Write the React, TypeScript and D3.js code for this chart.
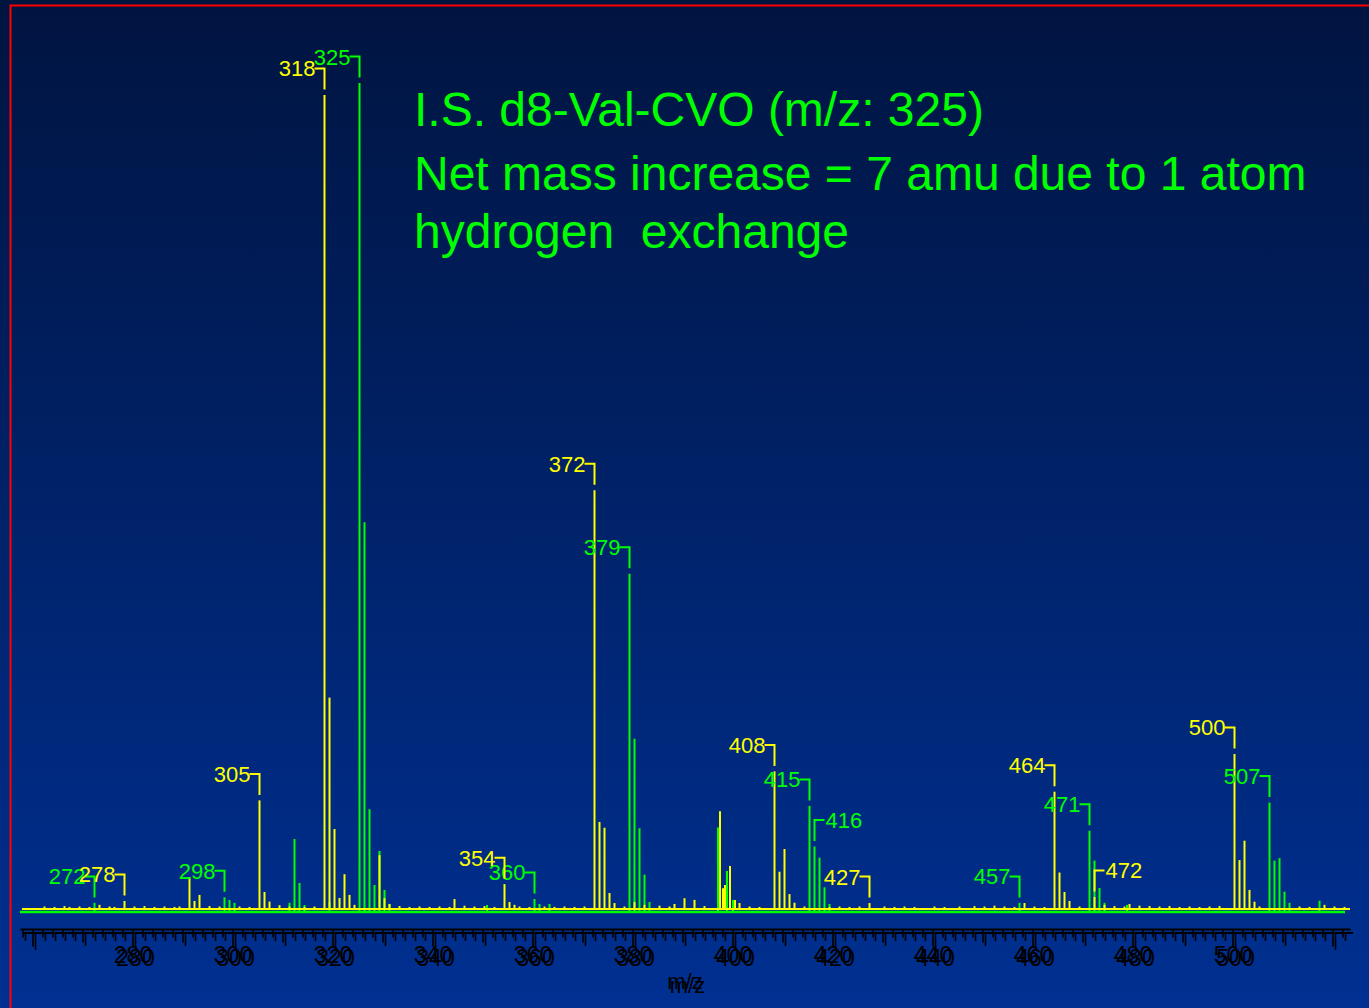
import React from 'react';
import * as d3 from 'd3';

// ---------------- data ----------------
// [m/z, relative abundance %]
const yellowPeaks: [number, number][] = [
  [273, 0.5], [278, 0.97], [291, 3.86], [292, 0.97], [293, 1.7], [305, 13.1], [306, 2.05], [307, 0.9],
  [318, 98.2], [319, 25.5], [320, 9.65], [321, 1.33], [322, 4.2], [323, 1.7], [324, 0.5], [329, 6.5],
  [330, 1.3], [331, 0.6], [344, 1.2], [354, 3.0], [355, 0.85], [356, 0.5], [372, 50.5], [373, 10.5],
  [374, 9.8], [375, 1.93], [376, 0.72], [380, 0.85], [382, 0.5], [388, 0.6], [390, 1.3], [392, 1.1],
  [397.1, 11.8], [397.7, 2.5], [398.1, 2.9], [399.1, 5.2], [400.1, 1.1], [401, 0.72], [408, 16.6],
  [409, 4.5], [410, 7.24], [411, 1.8], [412, 0.76], [427, 0.72], [458, 0.72], [464, 14.15], [465, 4.4],
  [466, 2.05], [467, 0.97], [472, 1.45], [474, 0.5], [479, 0.6], [500, 18.7], [501, 5.9], [502, 8.24],
  [503, 2.3], [504, 0.88], [505, 0.3], [518, 0.5],
];

const yellowNoise: [number, number][] = [
  [262, 0.3], [264, 0.25], [266, 0.35], [267, 0.25], [269, 0.3], [271, 0.25], [275, 0.3], [276, 0.25],
  [280, 0.3], [282, 0.35], [284, 0.25], [286, 0.3], [288, 0.25], [289, 0.3], [295, 0.35], [297, 0.3],
  [301, 0.3], [303, 0.25], [309, 0.45], [311, 0.3], [314, 0.25], [316, 0.3], [333, 0.35], [335, 0.25],
  [337, 0.3], [339, 0.25], [341, 0.3], [343, 0.25], [346, 0.4], [348, 0.3], [350, 0.35], [352, 0.25],
  [357, 0.3], [359, 0.25], [362, 0.3], [364, 0.25], [366, 0.3], [368, 0.25], [370, 0.3], [378, 0.3],
  [385, 0.4], [387, 0.3], [394, 0.35], [403, 0.3], [405, 0.25], [414, 0.3], [419, 0.25], [421, 0.3],
  [423, 0.25], [425, 0.3], [430, 0.3], [432, 0.25], [434, 0.3], [436, 0.25], [440, 0.3], [442, 0.25],
  [445, 0.3], [448, 0.35], [450, 0.3], [452, 0.4], [454, 0.3], [456, 0.25], [460, 0.3], [462, 0.25],
  [469, 0.3], [476, 0.35], [478, 0.3], [481, 0.4], [483, 0.35], [485, 0.3], [487, 0.35], [489, 0.25],
  [491, 0.3], [493, 0.25], [495, 0.3], [497, 0.35], [513, 0.3], [515, 0.25], [520, 0.3], [522, 0.25],
];

const greenPeaks: [number, number][] = [
  [272, 1.1], [298, 1.77], [299, 1.45], [300, 1.1], [311, 1.1], [312, 8.8], [313, 3.5], [314, 0.85],
  [319, 1.2], [325, 100], [326, 47.0], [327, 12.4], [328, 3.26], [329, 7.36], [330, 2.65], [331, 0.97],
  [350.5, 0.85], [360, 1.57], [361, 0.97], [363, 0.97], [379, 40.8], [380, 20.9], [381, 10.1], [382, 4.5],
  [383, 1.2], [396.7, 10.2], [398.5, 4.95], [399.7, 1.45], [415, 12.8], [416, 7.9], [417, 6.55],
  [418, 2.98], [419, 0.97], [457, 1.1], [471, 9.8], [472, 6.2], [473, 2.9], [474, 1.1], [478.5, 0.85],
  [507, 13.2], [508, 6.2], [509, 6.5], [510, 2.45], [511, 1.1], [517, 1.36],
];

const yellowLabels = [278, 305, 318, 354, 372, 408, 427, 464, 472, 500];
const greenLabels = [272, 298, 325, 360, 379, 415, 416, 457, 471, 507];
const rightSideLabels = [416, 472];

const axisTickLabels = [280, 300, 320, 340, 360, 380, 400, 420, 440, 460, 480, 500];
const axisDomain: [number, number] = [257.5, 523.5];
const axisTitle = 'm/z';

const titleLines = [
  'I.S. d8-Val-CVO (m/z: 325)',
  'Net mass increase = 7 amu due to 1 atom',
  'hydrogen  exchange',
];

// ---------------- layout ----------------
const W = 1369;
const H = 1008;
const YELLOW = '#ffff00';
const GREEN = '#00ff00';
const FONT = '"Liberation Sans", Arial, Helvetica, sans-serif';

const yBaseY = 909;
const yBaseG = 912;
const fullH = 829;
const peakShift = 1.5;
const axisY = 929.5;

export default function App() {
  const x = d3.scaleLinear().domain(axisDomain).range([20.5, 1350.5]);
  const yY = d3.scaleLinear().domain([0, 100]).range([yBaseY, yBaseY - fullH]);
  const yG = d3.scaleLinear().domain([0, 100]).range([yBaseG, yBaseG - fullH]);
  const px = (m: number) => x(m) + peakShift;

  const ticks = d3.range(258, 524, 2);

  const renderAxis = (dx: number, dy: number, key: string) => (
    <g key={key} transform={`translate(${dx},${dy})`}>
      <line x1={x(axisDomain[0])} x2={x(axisDomain[1])} y1={axisY} y2={axisY} stroke="#000" strokeWidth={1.8} />
      {ticks.map((t) => {
        const len = t % 20 === 0 ? 17 : t % 10 === 0 ? 13 : 8;
        return (
          <line key={t} x1={x(t)} x2={x(t)} y1={axisY} y2={axisY + len} stroke="#000" strokeWidth={1.6} />
        );
      })}
      {axisTickLabels.map((t) => (
        <text key={t} x={x(t)} y={axisY + 33} fontSize={23} fontFamily={FONT} textAnchor="middle" fill="#000">
          {t}
        </text>
      ))}
      <text x={685} y={989} fontSize={22} fontFamily={FONT} textAnchor="middle" fill="#000">
        {axisTitle}
      </text>
    </g>
  );

  const renderLabel = (m: number, peaks: [number, number][], yScale: (v: number) => number, color: string) => {
    const p = peaks.find((d) => d[0] === m);
    if (!p) return null;
    const cx = px(m);
    const top = yScale(p[1]);
    const by = top - 26.5;
    const vEnd = top - 5.5;
    const right = rightSideLabels.includes(m);
    const hx = right ? cx + 10 : cx - 10;
    return (
      <g key={`${color}-${m}`}>
        <path d={`M${hx},${by}H${cx}V${vEnd}`} fill="none" stroke={color} strokeWidth={2} />
        <text
          x={right ? cx + 11 : cx - 9}
          y={by + 8}
          fontSize={22}
          fontFamily={FONT}
          fill={color}
          textAnchor={right ? 'start' : 'end'}
        >
          {m}
        </text>
      </g>
    );
  };

  return (
    <svg
      width={W}
      height={H}
      style={{ position: 'fixed', left: 0, top: 0, display: 'block' }}
      xmlns="http://www.w3.org/2000/svg"
    >
      <defs>
        <linearGradient id="bg" x1="0" y1="0" x2="0" y2="1">
          <stop offset="0%" stopColor="#001440" />
          <stop offset="100%" stopColor="#003092" />
        </linearGradient>
      </defs>
      <rect x={0} y={0} width={W} height={H} fill="url(#bg)" />
      {/* red frame */}
      <path d={`M10.5,${H}V5.5H${W}`} fill="none" stroke="#ff0000" strokeWidth={2} />

      {/* title */}
      {titleLines.map((t, i) => (
        <text
          key={i}
          x={414}
          y={[126, 190, 248][i]}
          fontSize={48}
          fontFamily={FONT}
          fill={GREEN}
          style={{ whiteSpace: 'pre' }}
          xmlSpace="preserve"
        >
          {t}
        </text>
      ))}

      {/* green spectrum */}
      <line x1={20} x2={1345} y1={yBaseG} y2={yBaseG} stroke={GREEN} strokeWidth={2.5} />
      {greenPeaks.map(([m, v]) => (
        <line key={`g${m}`} x1={px(m)} x2={px(m)} y1={yBaseG} y2={yG(v)} stroke={GREEN} strokeWidth={2} />
      ))}

      {/* yellow spectrum */}
      <line x1={22} x2={1350} y1={yBaseY} y2={yBaseY} stroke={YELLOW} strokeWidth={2} />
      {yellowNoise.concat(yellowPeaks).map(([m, v]) => (
        <line key={`y${m}`} x1={px(m)} x2={px(m)} y1={yBaseY} y2={yY(v)} stroke={YELLOW} strokeWidth={2} />
      ))}

      {/* peak labels */}
      {greenLabels.map((m) => renderLabel(m, greenPeaks, yG, GREEN))}
      {yellowLabels.map((m) => renderLabel(m, yellowPeaks, yY, YELLOW))}

      {/* doubled axis */}
      {renderAxis(0, 0, 'a')}
      {renderAxis(2.5, 3.5, 'b')}
    </svg>
  );
}
